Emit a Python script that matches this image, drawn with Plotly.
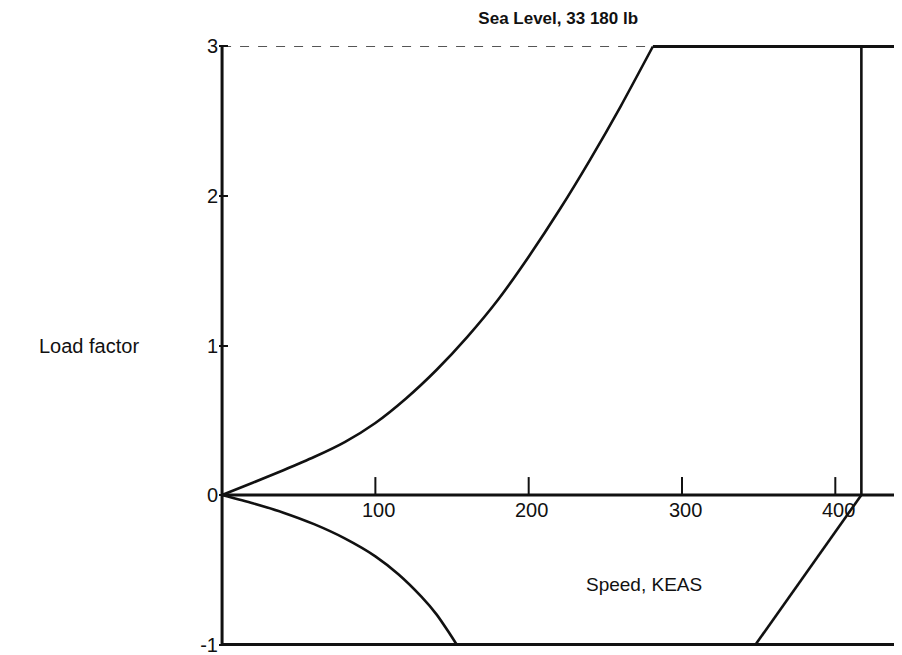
import plotly.graph_objects as go

# V-n envelope, sea level, 33 180 lb  (speed in KEAS, load factor n)
upper_v = [0, 20, 40, 60, 80, 100, 120, 140, 160, 180, 200, 220, 240, 260, 281]
upper_n = [0, 0.082, 0.166, 0.254, 0.354, 0.482, 0.646, 0.838, 1.058, 1.306, 1.594, 1.906, 2.242, 2.600, 3.0]

lower_v = [0, 20, 40, 60, 80, 100, 115, 130, 140, 148, 153]
lower_n = [0, -0.055, -0.118, -0.195, -0.29, -0.41, -0.53, -0.68, -0.80, -0.92, -1.0]

n_max, n_min = 3.0, -1.0
v_dive = 417
v_neg_corner = 348
v_end = 443.5

x_ticks = [100, 200, 300, 400]
y_ticks = [-1, 0, 1, 2, 3]
y_ticktext = ["-1", "0", "1", "2", "3"]

FONT = "Liberation Sans, Arial, sans-serif"
INK = "#111111"

fig = go.Figure()


def seg(x, y, width=3, dash="solid", color=INK):
    fig.add_trace(go.Scatter(x=x, y=y, mode="lines", cliponaxis=False, hoverinfo="skip",
                             line=dict(color=color, width=width, dash=dash)))


# frame / reference lines
seg([0, 0], [n_min, n_max], width=3)
seg([0, v_end], [0, 0], width=3)
seg([0, v_end], [n_min, n_min], width=3)
seg([0, upper_v[-1]], [n_max, n_max], width=1.2, dash="dash", color="#555555")
seg([upper_v[-1], v_end], [n_max, n_max], width=3)

# envelope
fig.add_trace(go.Scatter(x=upper_v, y=upper_n, mode="lines", hoverinfo="skip",
                         line=dict(color=INK, width=2.6, shape="spline", smoothing=0.6)))
fig.add_trace(go.Scatter(x=lower_v, y=lower_n, mode="lines", hoverinfo="skip",
                         line=dict(color=INK, width=2.6, shape="spline", smoothing=0.6)))
seg([v_dive, v_dive], [0, n_max], width=2.6)
seg([v_neg_corner, v_dive], [n_min, 0], width=2.6)

# speed ticks sit on the zero line
for v in x_ticks:
    seg([v, v], [0, 0.12], width=2)
    fig.add_annotation(x=v, y=0, text=str(v), showarrow=False, yanchor="top", yshift=-2, xshift=3,
                       font=dict(family=FONT, size=20, color=INK))

fig.add_annotation(x=275, y=-0.6, text="Speed, KEAS", showarrow=False,
                   font=dict(family=FONT, size=19, color=INK))
fig.add_annotation(x=-0.19, xref="paper", xanchor="center", y=1.0, yref="y", text="Load factor",
                   showarrow=False, font=dict(family=FONT, size=20, color=INK))

# page body adds an 8 px offset, margins compensate for it
fig.update_layout(
    width=902, height=655,
    margin=dict(l=211, r=8, t=34, b=11),
    plot_bgcolor="white", paper_bgcolor="white",
    showlegend=False,
    title=dict(text="<b>Sea Level, 33 180 lb</b>", x=0.61, xanchor="center", y=0.985, yanchor="middle",
               font=dict(family=FONT, size=17, color=INK)),
    xaxis=dict(range=[-2, v_end], showgrid=False, zeroline=False, showline=False,
               showticklabels=False, ticks=""),
    yaxis=dict(range=[-1.03, 3.03], showgrid=False, zeroline=False, showline=False,
               tickvals=y_ticks, ticktext=y_ticktext, ticks="inside", ticklen=9, tickwidth=2,
               tickcolor=INK, tickfont=dict(family=FONT, size=20, color=INK)),
)

fig.write_html("out.html")
